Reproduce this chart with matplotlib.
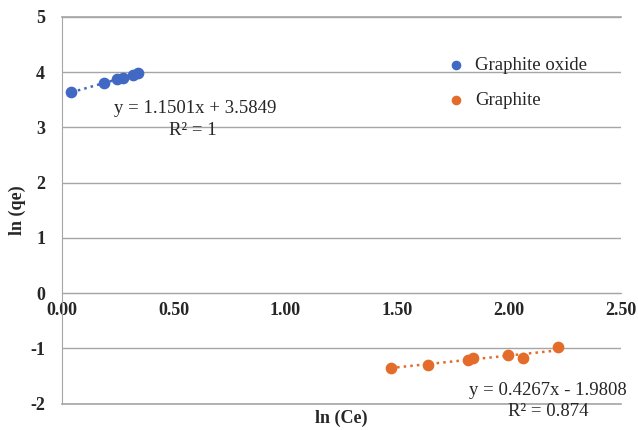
import numpy as np
import matplotlib.pyplot as plt

plt.rcParams['font.family'] = ['Liberation Serif', 'DejaVu Serif']
plt.rcParams['axes.unicode_minus'] = False

# ln(Ce) / ln(qe) pairs for each adsorbent
go_x = [0.043, 0.188, 0.245, 0.272, 0.317, 0.342]
go_y = [3.634, 3.801, 3.867, 3.898, 3.950, 3.978]
gr_x = [1.470, 1.638, 1.815, 1.837, 1.997, 2.061, 2.218]
gr_y = [-1.35, -1.29, -1.205, -1.17, -1.12, -1.17, -0.976]

# linear fits as reported
go_fit = (1.1501, 3.5849)
gr_fit = (0.4267, -1.9808)

BLUE = '#4169C4'
ORANGE = '#E46C2A'
TXT = '#262626'
GRID = '#a6a6a6'

fig = plt.figure(figsize=(6.38, 4.30), dpi=100)
ax = fig.add_axes([0.097, 0.061, 0.876, 0.900])

ax.set_xlim(0, 2.5)
ax.set_ylim(-2, 5)
ax.set_yticks(range(-2, 6))
ax.set_xticks(np.arange(0, 2.51, 0.5))
ax.set_xticklabels(['%.2f' % v for v in np.arange(0, 2.51, 0.5)])
ax.yaxis.grid(True, color=GRID, lw=1)
ax.set_axisbelow(True)
ax.axhline(-2, color=GRID, lw=1.2, clip_on=False, zorder=0)
ax.axhline(5, color=GRID, lw=1.2, clip_on=False, zorder=0)

for s in ['top', 'right']:
    ax.spines[s].set_visible(False)
ax.spines['bottom'].set_position(('data', 0))
ax.spines['bottom'].set_color(GRID)
ax.spines['left'].set_color(GRID)
ax.tick_params(length=0, labelsize=13, colors=TXT)
ax.tick_params(axis='x', pad=6)
ax.tick_params(axis='y', pad=12)
for lab in ax.get_xticklabels() + ax.get_yticklabels():
    lab.set_fontweight('bold')

# trendlines over the data range
for xs, (m, b), c in [(go_x, go_fit, BLUE), (gr_x, gr_fit, ORANGE)]:
    xx = np.array([min(xs), max(xs)])
    ax.plot(xx, m * xx + b, ls=':', color=c, lw=1.8, zorder=2)

ax.scatter(go_x, go_y, s=55, color=BLUE, label='Graphite oxide', zorder=3)
ax.scatter(gr_x, gr_y, s=55, color=ORANGE, label='Graphite', zorder=3)

ax.text(0.595, 3.5, 'y = 1.1501x + 3.5849', fontsize=13.5, color=TXT, ha='center', va='top')
ax.text(0.585, 3.1, 'R² = 1', fontsize=13.5, color=TXT, ha='center', va='top')
ax.text(2.175, -1.6, 'y = 0.4267x - 1.9808', fontsize=13.5, color=TXT, ha='center', va='top')
ax.text(2.175, -1.98, 'R² = 0.874', fontsize=13.5, color=TXT, ha='center', va='top')

leg = ax.legend(loc='upper left', bbox_to_anchor=(0.642, 0.94), frameon=False,
                fontsize=13.5, handletextpad=0.0, labelspacing=0.95, markerscale=0.8)
for t in leg.get_texts():
    t.set_color(TXT)

ax.set_ylabel('ln (qe)', fontsize=13, fontweight='bold', color=TXT, labelpad=3)
ax.text(0.5, -0.038, 'ln (Ce)', transform=ax.transAxes, fontsize=13,
        fontweight='bold', color=TXT, ha='center', va='center')

fig.savefig('out.png', dpi=100)
